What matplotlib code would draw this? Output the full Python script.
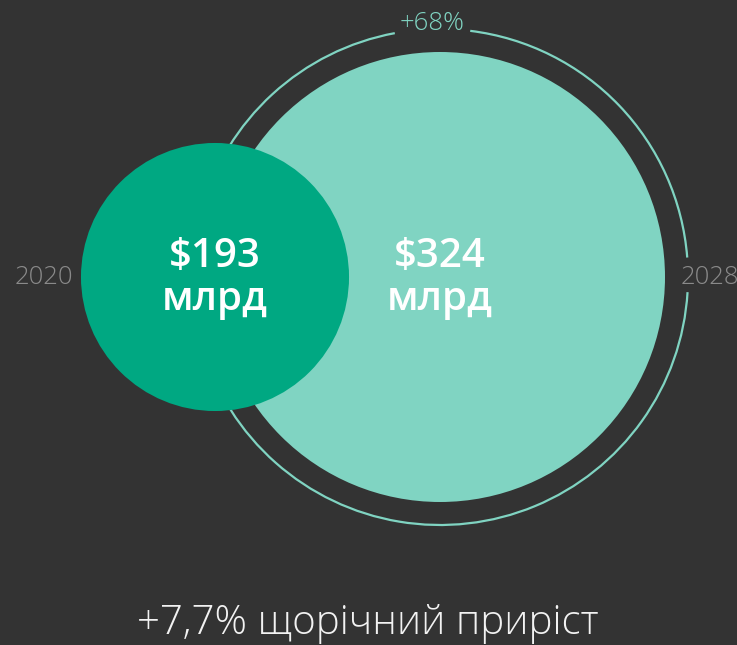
import matplotlib

matplotlib.use("Agg")
import matplotlib.pyplot as plt
from matplotlib.patches import Arc, Circle

# market size, bn USD
years = ["2020", "2028"]
values = [193, 324]
value_labels = ["$193\nмлрд", "$324\nмлрд"]
growth_label = "+68%"
cagr_label = "+7,7% щорічний приріст"

BG = "#333333"
DARK = "#00a882"
LIGHT = "#80d4c2"
GREY = "#8a8a8a"

W, H = 737, 645
fig = plt.figure(figsize=(W / 100, H / 100), dpi=100, facecolor=BG)
ax = fig.add_axes([0, 0, 1, 1])
ax.set_xlim(0, W)
ax.set_ylim(0, H)
ax.set_aspect("equal")
ax.axis("off")
ax.set_facecolor(BG)

# radius proportional to value
k = 225 / values[1]
cy = H - 277
centers = [215, 440]
radii = [v * k for v in values]

# outer ring around the 2028 circle, with gaps for its labels
ring_r = radii[1] + 23
for t1, t2 in [(4.5, 83), (100.5, 356.5)]:
    ax.add_patch(Arc((centers[1], cy), 2 * ring_r, 2 * ring_r, theta1=t1, theta2=t2,
                     color=LIGHT, lw=1.6, zorder=1))

ax.add_patch(Circle((centers[1], cy), radii[1], color=LIGHT, lw=0, zorder=2))
ax.add_patch(Circle((centers[0], cy), radii[0], color=DARK, lw=0, zorder=3))

for cx, lab in zip(centers, value_labels):
    ax.text(cx, cy - 1, lab, ha="center", va="center", color="white", fontsize=29,
            fontfamily="Open Sans", fontweight="semibold", linespacing=1.1, zorder=4)

ax.text(44, cy, years[0], ha="center", va="center", color=GREY, fontsize=18.5,
        fontfamily="Open Sans", fontweight="light")
ax.text(681, cy, years[1], ha="left", va="center", color=GREY, fontsize=18.5,
        fontfamily="Open Sans", fontweight="light")
ax.text(432, H - 23, growth_label, ha="center", va="center", color=LIGHT, fontsize=18.5,
        fontfamily="Open Sans", fontweight="light")

ax.text(368, H - 624, cagr_label, ha="center", va="center", color="#f2f2f2", fontsize=29,
        fontfamily="Open Sans", fontweight="light")

fig.savefig("out.png", dpi=100, facecolor=BG)
